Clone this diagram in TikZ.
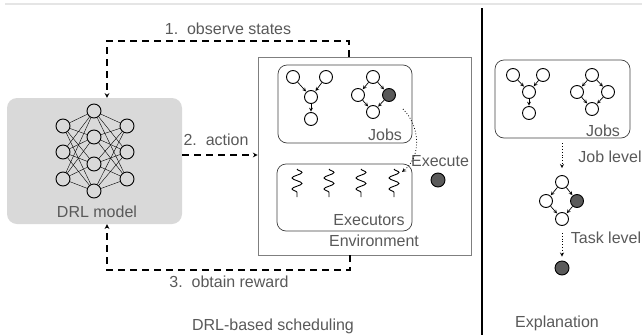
\documentclass[tikz,border=0pt]{standalone}
\usepackage{fontspec}
\setmainfont{Liberation Sans}
\usetikzlibrary{arrows,decorations.pathmorphing}
\definecolor{txtgray}{HTML}{595959}
\definecolor{boxgray}{HTML}{D9D9D9}
\definecolor{darknode}{HTML}{5A5A5A}
\definecolor{framegray}{HTML}{7F7F7F}

\begin{document}
\begin{tikzpicture}[x=1pt,y=-1pt,>=stealth,
    lbl/.style={text=txtgray,font=\fontsize{16}{19}\selectfont,inner sep=0pt},
    nn node/.style={circle,draw,line width=0.9pt,minimum size=14pt,inner sep=0pt},
    task node/.style={circle,draw,line width=0.9pt,minimum size=13pt,inner sep=0pt,fill=white},
    done node/.style={task node,fill=darknode},
    group box/.style={draw=black!75,rounded corners=9pt,line width=0.7pt},
    flow/.style={->,line width=1.1pt,dash pattern=on 7pt off 5pt},
    hint/.style={->,dotted,line width=0.8pt},
    dep/.style={->,line width=0.7pt,shorten >=0.5pt},
    squig/.style={decorate,decoration={snake,segment length=11pt,amplitude=5pt},line width=0.9pt}]
    \useasboundingbox (0,0) rectangle (642,335);
    \draw[gray!20,line width=1.5pt] (5,4) -- (642,4);
    \draw[line width=1.2pt] (482,8) -- (482,335);

    \node[fill=boxgray,rounded corners=10pt,minimum width=175pt,minimum height=126pt] (drl) at (94.5,161) {};
    \foreach \i/\y in {1/126,2/152,3/179}
        \node[nn node] (a\i) at (63,\y) {};
    \foreach \i/\y in {1/111,2/137,3/164,4/191}
        \node[nn node] (b\i) at (94,\y) {};
    \foreach \i/\y in {1/126,2/152,3/179}
        \node[nn node] (c\i) at (127,\y) {};
    \foreach \i in {1,2,3}
        \foreach \j in {1,...,4}
            \draw[line width=0.4pt] (a\i) -- (b\j) (b\j) -- (c\i);
    \node[lbl] at (97,212) {DRL model};

    \node[draw=framegray,line width=0.8pt,minimum width=213pt,minimum height=198pt] (env) at (364.5,156) {};
    \node[group box,minimum width=134pt,minimum height=78pt] (jobs) at (345,104) {};
    \node[group box,minimum width=135pt,minimum height=67pt] (execs) at (344.5,197.5) {};
    \node[lbl] at (385,135) {Jobs};
    \node[lbl] at (369,220) {Executors};
    \node[lbl] at (374,241) {Environment};

    \node[task node] (y1) at (293,77) {};
    \node[task node] (y2) at (326,77) {};
    \node[task node] (y3) at (311,97) {};
    \node[task node] (y4) at (311,119) {};
    \node[task node] (d1) at (373,77) {};
    \node[task node] (d2) at (358,95) {};
    \node[done node] (d3) at (389,95) {};
    \node[task node] (d4) at (373,112) {};
    \path[dep]
        (y1) edge (y3)
        (y2) edge (y3)
        (y3) edge (y4)
        (d1) edge (d2)
        (d1) edge (d3)
        (d2) edge (d4)
        (d3) edge (d4)
    ;

    \foreach \x in {297,329,361,394}
        \draw[squig] (\x,169) -- (\x,197);

    \node[lbl] at (440,161) {Execute};
    \node[done node,minimum size=14pt] (x1) at (438,180) {};
    \coordinate (cs) at (403,109);
    \coordinate (ce) at (402,172);
    \draw[hint] (cs) .. controls (420,126) and (422,156) .. (ce);

    \coordinate (tl) at (107,41);
    \coordinate (tr) at (349,41);
    \draw[flow] (env.north -| tr) -- (tr) -- (tl) -- (drl.north -| tl);
    \node[lbl] at (228,29) {1.\ \ observe states};

    \coordinate (act) at (220,155);
    \draw[flow] (drl.east |- act) -- (env.west |- act);
    \node[lbl] at (216,140) {2.\ \ action};

    \coordinate (bl) at (107,270);
    \coordinate (br) at (350,270);
    \draw[flow] (env.south -| br) -- (br) -- (bl) -- (drl.south -| bl);
    \node[lbl] at (229,282) {3.\ \ obtain reward};

    \node[lbl] at (273,326) {DRL-based scheduling};

    \node[group box,minimum width=135pt,minimum height=78pt] (jobs2) at (562.5,99) {};
    \node[lbl] at (603,131) {Jobs};
    \node[task node] (p1) at (513,75) {};
    \node[task node] (p2) at (543,75) {};
    \node[task node] (p3) at (529,92) {};
    \node[task node] (p4) at (529,113) {};
    \node[task node] (q1) at (592,75) {};
    \node[task node] (q2) at (577,92) {};
    \node[task node] (q3) at (608,92) {};
    \node[task node] (q4) at (592,109) {};
    \path[dep]
        (p1) edge (p3)
        (p2) edge (p3)
        (p3) edge (p4)
        (q1) edge (q2)
        (q1) edge (q3)
        (q2) edge (q4)
        (q3) edge (q4)
    ;

    \node[task node] (r1) at (562,182) {};
    \node[task node] (r2) at (546,201) {};
    \node[done node] (r3) at (577,201) {};
    \node[task node] (r4) at (562,219) {};
    \path[dep]
        (r1) edge (r2)
        (r1) edge (r3)
        (r2) edge (r4)
        (r3) edge (r4)
    ;
    \node[done node,minimum size=14pt] (s1) at (562,268) {};

    \draw[hint,shorten <=5pt,shorten >=7pt] (jobs2.south -| r1) -- (r1);
    \draw[hint,shorten <=7pt,shorten >=4pt] (r4) -- (s1);
    \node[lbl] at (610,157) {Job level};
    \node[lbl] at (606,238) {Task level};
    \node[lbl] at (557,323) {Explanation};
\end{tikzpicture}
\end{document}
